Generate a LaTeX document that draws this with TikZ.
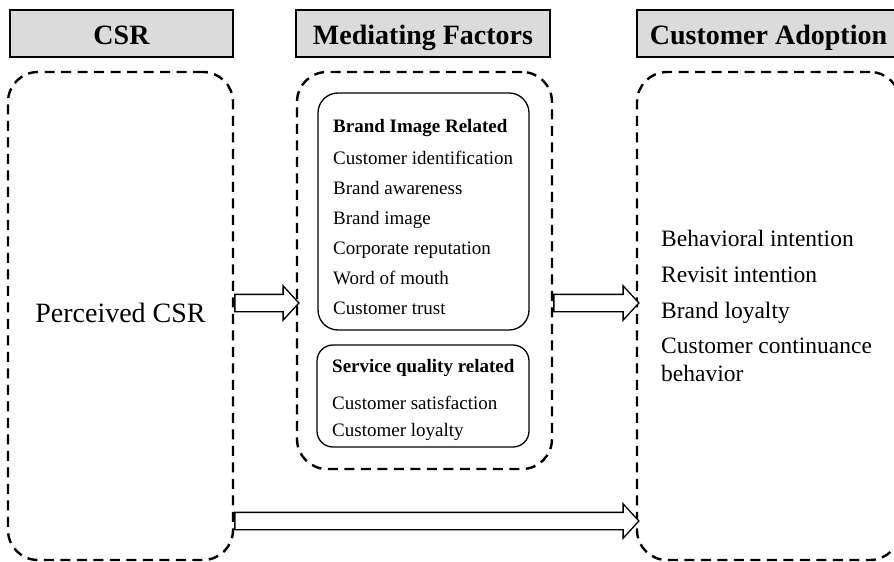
\documentclass[tikz,border=0pt]{standalone}
\usepackage{fontspec}
\setmainfont{Liberation Serif}
\usetikzlibrary{shapes.arrows}

\begin{document}
\begin{tikzpicture}[x=1pt, y=-1pt,
    header/.style={draw, line width=1.2pt, fill=gray!28, inner sep=0pt,
        minimum height=47pt, text height=21pt, text depth=0pt,
        font=\fontsize{28}{30}\selectfont\bfseries},
    group/.style={draw, line width=2.4pt, dash pattern=on 10pt off 6.5pt,
        rounded corners=30pt, inner sep=0pt},
    inner/.style={draw, line width=1.3pt, rounded corners=20pt, inner sep=0pt},
    item/.style={anchor=base west, inner sep=0pt, font=\fontsize{19}{22}\selectfont},
    result/.style={anchor=base west, inner sep=0pt, font=\fontsize{23.5}{28}\selectfont},
    hollow/.style={draw, line width=1.3pt, fill=white, single arrow, inner sep=0pt,
        text height=16pt, text depth=0pt, single arrow head extend=8.5pt,
        single arrow tip angle=95, anchor=tail}]
    \useasboundingbox (0,0) rectangle (894,562);
    \clip (0,0) rectangle (894,562);

    % Cabecalhos
    \node[header, minimum width=223pt] (csrhead) at (121.5,33.5) {CSR};
    \node[header, minimum width=254pt] (medhead) at (423,33.5) {Mediating Factors};
    \node[header, minimum width=263pt] (adopthead) at (768.5,33.5) {Customer Adoption};

    % Caixas tracejadas
    \node[group, minimum width=225pt, minimum height=488pt] (csr) at (120.5,316) {};
    \node[group, minimum width=255pt, minimum height=397pt] (med) at (424.5,270.5) {};
    \node[group, minimum width=263pt, minimum height=488pt] (adopt) at (768.5,316) {};

    % CSR
    \node[anchor=base, inner sep=0pt, font=\fontsize{28}{30}\selectfont]
        (perc) at (csr.center |- 0,322) {Perceived CSR};

    % Fatores mediadores
    \node[inner, minimum width=211pt, minimum height=237pt] (brand) at (423.5,211.5) {};
    \node[item, font=\fontsize{19}{22}\selectfont\bfseries] (b0) at (333,132) {Brand Image Related};
    \node[item] (b1) at (333,164) {Customer identification};
    \node[item] (b2) at (333,194) {Brand awareness};
    \node[item] (b3) at (333,224) {Brand image};
    \node[item] (b4) at (333,254) {Corporate reputation};
    \node[item] (b5) at (333,284) {Word of mouth};
    \node[item] (b6) at (333,314) {Customer trust};

    \node[inner, rounded corners=16pt, minimum width=212pt, minimum height=102pt] (serv) at (423,396) {};
    \node[item, font=\fontsize{19}{22}\selectfont\bfseries] (s0) at (332,372) {Service quality related};
    \node[item] (s1) at (332,409) {Customer satisfaction};
    \node[item] (s2) at (332,436) {Customer loyalty};

    % Adocao
    \node[result] (r1) at (661,246) {Behavioral intention};
    \node[result] (r2) at (661,282) {Revisit intention};
    \node[result] (r3) at (661,318) {Brand loyalty};
    \node[result] (r4) at (661,353) {Customer continuance};
    \node[result] (r5) at (661,381) {behavior};

    % Setas
    \node[hollow, minimum height=64pt] (arr1) at (csr.east |- 0,303) {};
    \node[hollow, minimum height=85pt] (arr2) at (med.east |- 0,303) {};
    \node[hollow, minimum height=404pt] (arr3) at (csr.east |- 0,521) {};
\end{tikzpicture}
\end{document}
